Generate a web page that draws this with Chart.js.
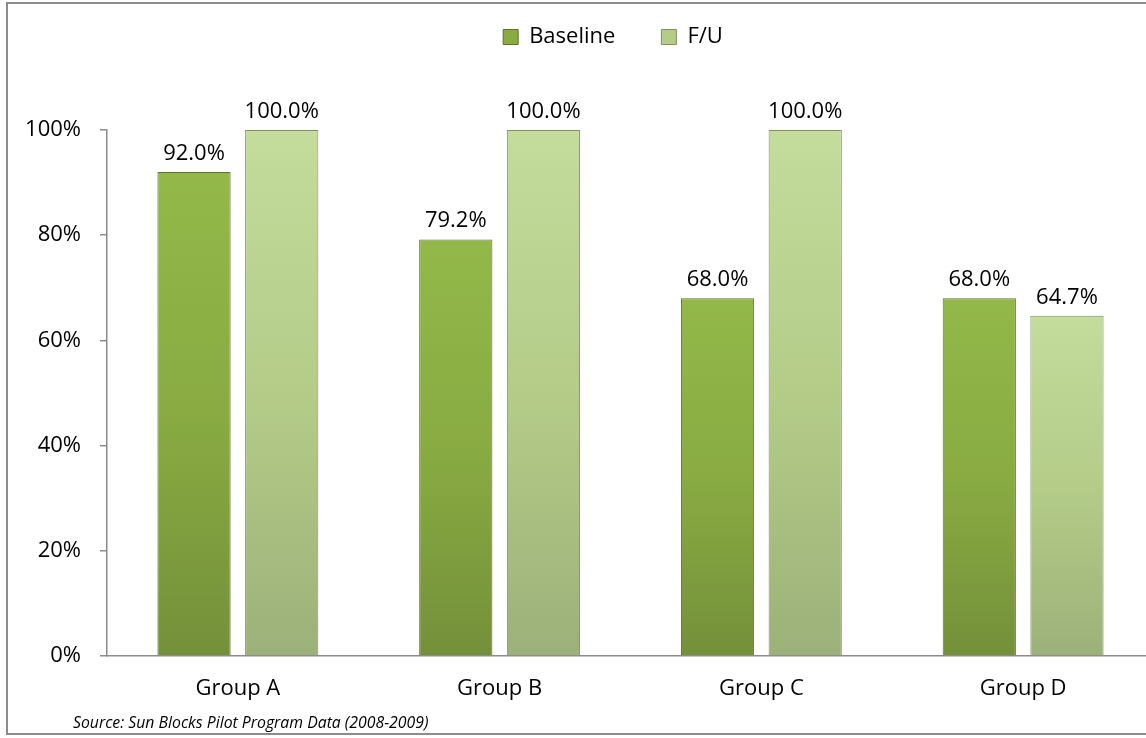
<!DOCTYPE html>
<html>
<head>
<meta charset="utf-8">
<script src="https://cdn.jsdelivr.net/npm/chart.js@4.4.1/dist/chart.umd.min.js"></script>
<style>
    html, body { margin: 0; padding: 0; background: #fff; overflow: hidden; }
    #wrap { position: relative; width: 1146px; height: 738px; overflow: hidden; }
    #frame { position: absolute; left: 6px; top: 2px; width: 1200px; height: 733px; border: 2px solid #8c8c8c; box-sizing: border-box; }
    #chart { position: absolute; left: 0; top: 0; }
    #source { position: absolute; left: 73px; top: 712px; font: italic 15.8px "Open Sans", sans-serif; color: #000; line-height: 20px; }
</style>
</head>
<body>
<div id="wrap">
    <div id="frame"></div>
    <canvas id="chart" width="1156" height="738"></canvas>
    <div id="source">Source: Sun Blocks Pilot Program Data (2008-2009)</div>
</div>
<script>
// Chart data
var categories = ['Group A', 'Group B', 'Group C', 'Group D'];
var baselineValues = [92.0, 79.2, 68.0, 68.0];
var followUpValues = [100.0, 100.0, 100.0, 64.7];
var seriesNames = ['Baseline', 'F/U'];
var yTicks = [0, 20, 40, 60, 80, 100];

var fontFamily = '"Open Sans", sans-serif',
    axisColor = '#8c8c8c';

// colours: [top, middle, bottom]
var baselineColors = ['#93b849', '#89ab42', '#74903a'],
    followUpColors = ['#c4dc9c', '#b4cc88', '#9cb179'];

// Vertical gradient per bar, from the bar top down to the axis
function barGradient(colors) {
    return function (context) {
        var chart = context.chart;
        if (!chart.chartArea || context.type !== 'data') {
            return colors[1];
        }
        var yScale = chart.scales.y;
        var top = yScale.getPixelForValue(context.raw),
            bottom = yScale.getPixelForValue(0);
        if (!isFinite(top) || !isFinite(bottom) || bottom <= top) {
            return colors[1];
        }
        var g = chart.ctx.createLinearGradient(0, top, 0, bottom);
        g.addColorStop(0, colors[0]);
        g.addColorStop(0.5, colors[1]);
        g.addColorStop(1, colors[2]);
        return g;
    };
}

// Plugin block: value labels above bars
const valueLabels = {
    id: 'valueLabels',
    afterDatasetsDraw(chart) {
        const ctx = chart.ctx;
        ctx.save();
        ctx.font = '22px ' + fontFamily;
        ctx.fillStyle = '#000';
        ctx.textAlign = 'center';
        ctx.textBaseline = 'alphabetic';
        chart.data.datasets.forEach(function (ds, i) {
            chart.getDatasetMeta(i).data.forEach(function (bar, j) {
                ctx.fillText(ds.data[j].toFixed(1) + '%', bar.x, bar.y - 12);
            });
        });
        ctx.restore();
    }
};

// Plugin block: legend box height and position
const legendPlace = {
    id: 'legendPlace',
    beforeInit(chart) {
        const fitValue = chart.legend.fit;
        chart.legend.fit = function fit() {
            fitValue.bind(chart.legend)();
            this.height = 130;
        };
    },
    afterLayout(chart) {
        chart.legend.left += 36;
        chart.legend.right += 36;
        chart.legend.top -= 20;
    }
};

var chart = new Chart(document.getElementById('chart'), {
    type: 'bar',
    data: {
        labels: categories,
        datasets: [
            {
                label: seriesNames[0],
                data: baselineValues,
                backgroundColor: barGradient(baselineColors),
                borderColor: '#5a7429',
                borderWidth: 1,
                categoryPercentage: 0.67,
                barPercentage: 0.835
            },
            {
                label: seriesNames[1],
                data: followUpValues,
                backgroundColor: barGradient(followUpColors),
                borderColor: '#7f9260',
                borderWidth: 1,
                categoryPercentage: 0.67,
                barPercentage: 0.835
            }
        ]
    },
    options: {
        responsive: false,
        animation: false,
        layout: { padding: { left: 0, right: 2, top: 0, bottom: 0 } },
        scales: {
            x: {
                grid: { display: false },
                border: { display: true, color: axisColor, width: 1.5 },
                ticks: {
                    color: '#000',
                    padding: 12,
                    font: { family: fontFamily, size: 22 }
                },
                afterFit: function (scale) { scale.height = 82; }
            },
            y: {
                min: 0,
                max: 100,
                afterBuildTicks: function (scale) {
                    scale.ticks = yTicks.map(function (v) { return { value: v }; });
                },
                grid: {
                    drawOnChartArea: false,
                    color: axisColor,
                    tickColor: axisColor,
                    tickLength: 7,
                    lineWidth: 1.5
                },
                border: { display: true, color: axisColor, width: 1.5 },
                ticks: {
                    color: '#000',
                    padding: 19,
                    font: { family: fontFamily, size: 22 },
                    callback: function (v) { return v + '%'; }
                },
                afterFit: function (scale) { scale.width = 107; }
            }
        },
        plugins: {
            legend: {
                position: 'top',
                labels: {
                    color: '#000',
                    boxWidth: 15,
                    boxHeight: 15,
                    padding: 46,
                    font: { family: fontFamily, size: 22 },
                    generateLabels: function (chart) {
                        var items = Chart.defaults.plugins.legend.labels.generateLabels(chart);
                        items[0].fillStyle = baselineColors[1];
                        items[0].strokeStyle = '#5a7429';
                        items[1].fillStyle = followUpColors[1];
                        items[1].strokeStyle = '#7f9260';
                        items.forEach(function (it) { it.lineWidth = 1; });
                        return items;
                    }
                }
            },
            tooltip: { enabled: false }
        }
    },
    plugins: [valueLabels, legendPlace]
});
</script>
</body>
</html>
